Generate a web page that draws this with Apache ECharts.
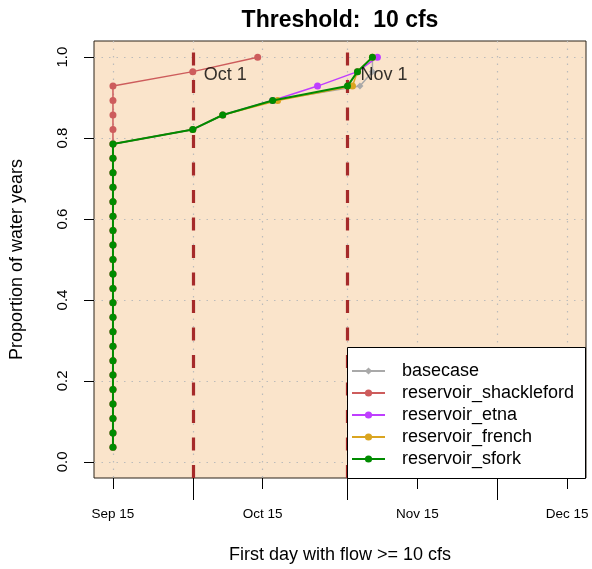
<!DOCTYPE html>
<html>
<head>
<meta charset="utf-8">
<script src="https://cdn.jsdelivr.net/npm/echarts@6/dist/echarts.min.js"></script>
<style>html,body{margin:0;padding:0;background:#fff}#c{width:592px;height:569px}</style>
</head>
<body>
<div id="c"></div>
<script>
// x values are days after Sep 15
const seriesNames = ['basecase', 'reservoir_shackleford', 'reservoir_etna', 'reservoir_french', 'reservoir_sfork'];
const seriesColors = ['#A9A9A9', '#CD5C5C', '#BF3EFF', '#DAA520', '#008B00'];
const nYears = 28;
const basecaseDays = [0,0,0,0,0,0,0,0,0,0,0,0,0,0,0,0,0,0,0,0,0,0, 16, 22, 32, 49.5, 52, 52];
const shacklefordDays = [0,0,0,0,0,0,0,0,0,0,0,0,0,0,0,0,0,0,0,0,0,0,0,0,0,0, 16, 29];
const etnaDays = [0,0,0,0,0,0,0,0,0,0,0,0,0,0,0,0,0,0,0,0,0,0, 16, 22, 32, 41, 49, 53];
const frenchDays = [0,0,0,0,0,0,0,0,0,0,0,0,0,0,0,0,0,0,0,0,0,0, 16, 22, 33, 48, 49, 52];
const sforkDays = [0,0,0,0,0,0,0,0,0,0,0,0,0,0,0,0,0,0,0,0,0,0, 16, 22, 32, 47, 49, 52];
const xTickDays = [0, 30, 61, 91];
const xTickLabels = ['Sep 15', 'Oct 15', 'Nov 15', 'Dec 15'];
const monthStartDays = [16, 47, 77];
const markDays = [16, 47];
const annotText = ['Oct 1', 'Nov 1'];
const annotPos = [[18.2, 0.956], [49.6, 0.956]];
const yTicks = [0, 0.2, 0.4, 0.6, 0.8, 1.0];
const yTickLabels = ['0.0', '0.2', '0.4', '0.6', '0.8', '1.0'];

const allDays = [basecaseDays, shacklefordDays, etnaDays, frenchDays, sforkDays];
const FONT = "'Liberation Sans', Arial, Helvetica, sans-serif";

const chart = echarts.init(document.getElementById('c'), null, {renderer: 'canvas'});

const gridSplit = {show: true, lineStyle: {color: '#BBBBBB', width: 1.2, type: [1.5, 6]}};

const series = allDays.map((days, si) => {
  const s = {
    name: seriesNames[si],
    type: 'line',
    data: days.map((d, i) => [d, (i + 1) / nYears]),
    symbol: si === 0 ? 'diamond' : 'circle',
    symbolSize: 7,
    showAllSymbol: true,
    lineStyle: {color: seriesColors[si], width: si === 4 ? 2 : 1.5},
    itemStyle: {color: seriesColors[si]},
    animation: false,
    z: 3 + si
  };
  if (si === 0) {
    s.markLine = {
      silent: true,
      symbol: 'none',
      label: {show: false},
      lineStyle: {color: '#A52A2A', width: 3.2, type: [13, 14.5]},
      data: markDays.map(d => ({xAxis: d}))
    };
  }
  return s;
});

series.push({
  name: 'annot',
  type: 'scatter',
  symbolSize: 0,
  data: annotPos.map((p, i) => ({value: p, name: annotText[i]})),
  label: {show: true, position: 'right', distance: 0, formatter: p => p.name,
    fontSize: 18, color: '#000', fontFamily: FONT},
  z: 10,
  animation: false
});

const option = {
  animation: false,
  textStyle: {fontFamily: FONT},
  title: {
    text: 'Threshold:  10 cfs', left: 335, textAlign: 'center', top: 4,
    textStyle: {fontSize: 23, fontWeight: 'bold', color: '#000', fontFamily: FONT}
  },
  grid: {
    left: 93, right: 6, top: 41, bottom: 90,
    show: true, backgroundColor: '#FAE4CB', borderColor: '#2a2218', borderWidth: 1
  },
  xAxis: [
    {
      type: 'value', min: -3.8, max: 94.8,
      name: 'First day with flow >= 10 cfs', nameLocation: 'middle', nameGap: 68,
      nameTextStyle: {fontSize: 18, color: '#000', fontFamily: FONT},
      axisLine: {show: false, onZero: false},
      axisTick: {show: true, length: 11, customValues: xTickDays, lineStyle: {color: '#000', width: 1}},
      axisLabel: {show: true, customValues: xTickDays, margin: 29, fontSize: 13.5, color: '#000', fontFamily: FONT,
        formatter: v => { const i = xTickDays.indexOf(v); return i >= 0 ? xTickLabels[i] : ''; }},
      splitLine: gridSplit
    },
    {
      type: 'value', min: -3.8, max: 94.8, position: 'bottom',
      axisLine: {show: false, onZero: false},
      axisTick: {show: true, length: 22, customValues: monthStartDays, lineStyle: {color: '#000', width: 1}},
      axisLabel: {show: false, customValues: monthStartDays},
      splitLine: gridSplit
    }
  ],
  yAxis: {
    type: 'value', min: -0.04, max: 1.04,
    name: 'Proportion of water years', nameLocation: 'middle', nameGap: 68,
    nameTextStyle: {fontSize: 18, color: '#000', fontFamily: FONT},
    axisLine: {show: false, onZero: false},
    axisTick: {show: true, length: 10, customValues: yTicks, lineStyle: {color: '#000', width: 1}},
    axisLabel: {show: true, customValues: yTicks, rotate: 90, margin: 24, fontSize: 15, color: '#000', fontFamily: FONT,
      formatter: v => { const i = yTicks.findIndex(t => Math.abs(t - v) < 1e-9); return i >= 0 ? yTickLabels[i] : ''; }},
    splitLine: gridSplit
  },
  legend: {
    data: seriesNames,
    orient: 'vertical',
    left: 351, top: 362,
    itemWidth: 33, itemHeight: 9, itemGap: 4,
    padding: 0,
    textStyle: {fontSize: 18, color: '#000', fontFamily: FONT, padding: [0, 0, 0, 12], lineHeight: 18},
    z: 200
  },
  graphic: [{
    type: 'rect', left: 347, top: 347, z: 150,
    shape: {width: 238, height: 131},
    style: {fill: '#fff', stroke: '#000', lineWidth: 1}
  }],
  series: series
};
chart.setOption(option);
</script>
</body>
</html>
